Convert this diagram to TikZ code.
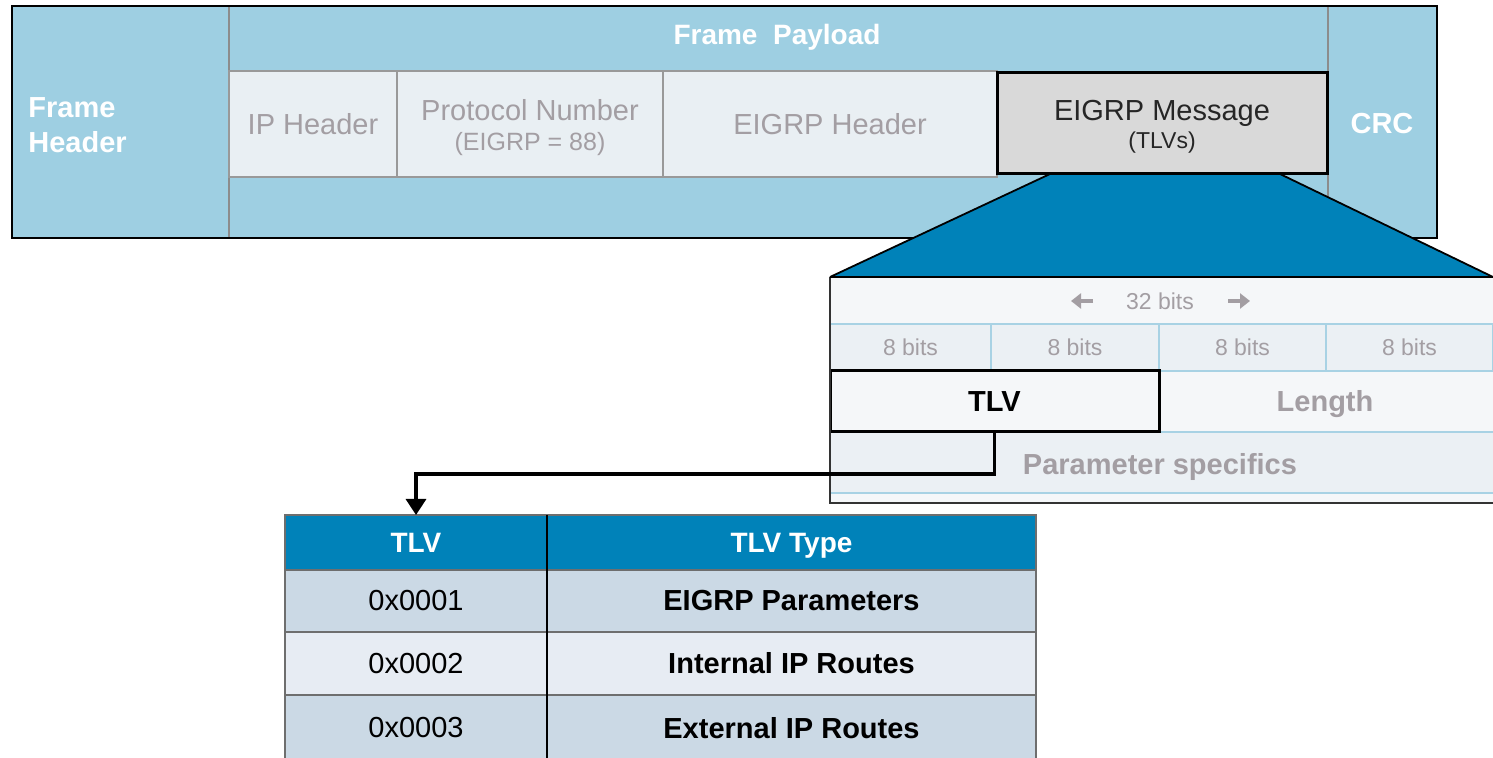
\documentclass[tikz,border=0pt]{standalone}
\usepackage{fontspec}
\setmainfont{Liberation Sans}
\usetikzlibrary{arrows.meta}

\definecolor{frameblue}{RGB}{158,207,226}
\definecolor{cellfill}{RGB}{233,239,243}
\definecolor{msgfill}{RGB}{217,217,217}
\definecolor{deepblue}{RGB}{0,130,185}
\definecolor{fadetext}{RGB}{163,158,163}
\definecolor{gridline}{RGB}{168,210,228}
\definecolor{rowA}{RGB}{203,217,229}
\definecolor{rowB}{RGB}{231,236,243}
\definecolor{paneA}{RGB}{245,247,249}
\definecolor{paneB}{RGB}{235,240,244}
\definecolor{rule}{RGB}{110,110,110}

\def\pxu{0.5pt}
\newcommand{\fs}[2]{\fontsize{#1}{#2}\selectfont}

\tikzset{
  box/.style={anchor=north west, inner sep=0pt, outer sep=0pt},
  cell/.style={box, draw=gray!80, line width=0.6pt, fill=cellfill,
    text=fadetext, font=\fontsize{14.5}{17}\selectfont, align=center},
  bitcell/.style={box, draw=gridline, line width=0.6pt, fill=paneB,
    text=fadetext, font=\fontsize{11.5}{14}\selectfont},
  whitebold/.style={text=white, font=\bfseries\fontsize{14.5}{17.5}\selectfont},
  hdrcell/.style={box, fill=deepblue, draw=rule, line width=0.6pt, text depth=0pt,
    text=white, font=\bfseries\fontsize{14}{17}\selectfont},
  datacell/.style={box, draw=rule, line width=1.1pt,
    font=\fontsize{14.5}{17}\selectfont},
  bitarrow/.style={fadetext, line width=2.2pt, -{Triangle[length=5pt,width=7.5pt]}},
}

\begin{document}
\begin{tikzpicture}[x=0.5pt,y=-0.5pt]
\useasboundingbox (0,0) rectangle (1493,758);

% ---------- Ethernet frame ----------
\node[box, fill=frameblue, minimum width=1425*\pxu, minimum height=232*\pxu] (frame) at (12,6) {};
\node[box, draw=gray!90, line width=0.6pt, fill=frameblue,
      minimum width=217*\pxu, minimum height=232*\pxu] (fhcol) at (12,6) {};
\node[box, draw=gray!90, line width=0.6pt, fill=frameblue,
      minimum width=109*\pxu, minimum height=232*\pxu] (crccol) at (1328,6) {};
\draw[line width=1.3pt] (frame.north west) rectangle (frame.south east);

\node[whitebold, anchor=west, align=left, inner sep=0pt] (fh) at (28,125) {Frame\\Header};
\node[whitebold, text depth=0pt, font=\bfseries\fontsize{14}{17}\selectfont] (payload) at (777,34) {Frame\ \ Payload};
\node[whitebold] (crc) at (1382,124) {CRC};

\node[cell, minimum width=168*\pxu, minimum height=106*\pxu] (iph) at (229,71) {IP Header};
\node[box, draw=gray!80, line width=0.6pt, fill=cellfill,
      minimum width=266*\pxu, minimum height=106*\pxu] (proto) at (397,71) {};
\node[text=fadetext, align=center, inner sep=0pt, font=\fontsize{14.5}{17}\selectfont]
  (protot) at ([yshift=-2pt]proto.center) {Protocol Number\\[-2pt]{\fs{12.5}{15}(EIGRP = 88)}};
\node[cell, minimum width=334*\pxu, minimum height=106*\pxu] (eigh) at (663,71) {EIGRP Header};

% ---------- zoom wedge ----------
\fill[deepblue] (1050,174) -- (1280,174) -- (1493,277) -- (830,277) -- cycle;
\draw[line width=0.9pt] (1050,174) -- (830,277);
\draw[line width=0.9pt] (1280,174) -- (1493,277);

\node[box, draw=black, line width=1.5pt, fill=msgfill,
      minimum width=330*\pxu, minimum height=101*\pxu] (msg) at (997,73) {};
\node[text=black!85, align=center, inner sep=0pt, font=\fontsize{14.5}{17}\selectfont]
  (msgt) at ([yshift=-1.5pt]msg.center) {EIGRP Message\\[-3pt]{\fs{11.5}{14}(TLVs)}};

% ---------- TLV layout ----------
\node[box, fill=paneA, minimum width=663*\pxu, minimum height=226*\pxu] (pane) at (830,277) {};
\node[box, fill=paneB, minimum width=663*\pxu, minimum height=61*\pxu] (params) at (830,432) {};
\node[text=fadetext, font=\fontsize{11.5}{14}\selectfont] (width) at (1160,301) {32 bits};
\coordinate (la1) at (1093,301);
\coordinate (la2) at (1071,301);
\coordinate (ra1) at (1228,301);
\coordinate (ra2) at (1250,301);
\draw[bitarrow] (la1) -- (la2);
\draw[bitarrow] (ra1) -- (ra2);

\node[bitcell, minimum width=161*\pxu, minimum height=47*\pxu] (b1) at (830,324) {8 bits};
\node[bitcell, minimum width=168*\pxu, minimum height=47*\pxu] (b2) at (991,324) {8 bits};
\node[bitcell, minimum width=167*\pxu, minimum height=47*\pxu] (b3) at (1159,324) {8 bits};
\node[bitcell, minimum width=167*\pxu, minimum height=47*\pxu] (b4) at (1326,324) {8 bits};

\draw[gridline, line width=0.6pt] (830,432) -- (1493,432);
\draw[gridline, line width=0.6pt] (830,493) -- (1493,493);

\node[box, draw=black, line width=1.5pt, fill=paneA,
      minimum width=329*\pxu, minimum height=61*\pxu,
      font=\bfseries\fontsize{14.5}{17}\selectfont] (tlvf) at (830,371) {TLV};
\node[text=fadetext, text depth=0pt, font=\bfseries\fontsize{14.5}{17}\selectfont] (len) at (1325,401) {Length};
\node[text=fadetext, text depth=0pt, font=\bfseries\fontsize{14.5}{17}\selectfont] (spec) at (1160,464) {Parameter specifics};

\draw[line width=0.6pt, black!80] (pane.north west) -- (pane.south west) -- (pane.south east);
\draw[line width=1.3pt] (pane.north west) -- (pane.north east);

% ---------- TLV type table ----------
\node[hdrcell, minimum width=262*\pxu, minimum height=55*\pxu] (th1) at (285,515) {TLV};
\node[hdrcell, minimum width=489*\pxu, minimum height=55*\pxu] (th2) at (547,515) {TLV Type};

\node[datacell, fill=rowA, minimum width=262*\pxu, minimum height=62*\pxu] (c11) at (285,570) {0x0001};
\node[datacell, fill=rowA, minimum width=489*\pxu, minimum height=62*\pxu, font=\bfseries\fontsize{14.5}{17}\selectfont] (c12) at (547,570) {EIGRP Parameters};
\node[datacell, fill=rowB, minimum width=262*\pxu, minimum height=63*\pxu] (c21) at (285,632) {0x0002};
\node[datacell, fill=rowB, minimum width=489*\pxu, minimum height=63*\pxu, font=\bfseries\fontsize{14.5}{17}\selectfont] (c22) at (547,632) {Internal IP Routes};
\node[datacell, fill=rowA, minimum width=262*\pxu, minimum height=66*\pxu] (c31) at (285,695) {0x0003};
\node[datacell, fill=rowA, minimum width=489*\pxu, minimum height=66*\pxu, font=\bfseries\fontsize{14.5}{17}\selectfont] (c32) at (547,695) {External IP Routes};
\draw[line width=0.8pt] (th1.north east) -- (c31.south east);

% ---------- connector ----------
\draw[line width=1.6pt, -{Triangle[length=8pt,width=10pt]}]
  (tlvf.south) -- ++(0,42) -| (th1.north);
\end{tikzpicture}
\end{document}
